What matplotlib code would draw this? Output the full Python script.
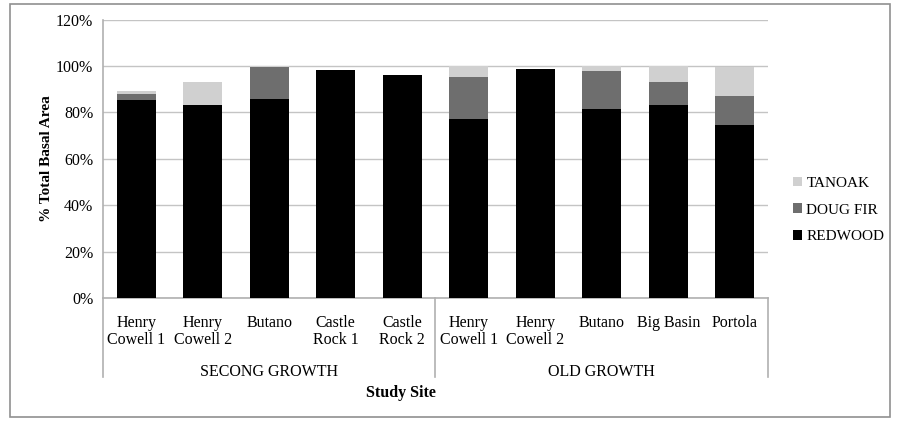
import matplotlib.pyplot as plt
import matplotlib.transforms as mtransforms
from matplotlib.patches import Rectangle

sites = ["Henry\nCowell 1", "Henry\nCowell 2", "Butano", "Castle\nRock 1", "Castle\nRock 2",
         "Henry\nCowell 1", "Henry\nCowell 2", "Butano", "Big Basin", "Portola"]
groups = ["SECONG GROWTH", "OLD GROWTH"]
group_sizes = [5, 5]

redwood = [85.3, 83.2, 85.8, 98.4, 96.1, 77.2, 98.6, 81.3, 83.2, 74.4]
doug_fir = [2.5, 0.0, 13.9, 0.0, 0.0, 17.9, 0.0, 16.5, 10.0, 12.7]
tanoak = [1.6, 10.0, 0.3, 0.0, 0.0, 4.9, 0.0, 2.2, 6.8, 12.4]

yticks = [0, 20, 40, 60, 80, 100, 120]

plt.rcParams["font.family"] = ["Liberation Serif", "DejaVu Serif"]

fig = plt.figure(figsize=(9.02, 4.21), dpi=100)
ax = fig.add_axes([0.1142, 0.2922, 0.7372, 0.6612])

x = list(range(len(sites)))
w = 0.59
ax.bar(x, redwood, w, color="#000000", label="REDWOOD", zorder=3)
ax.bar(x, doug_fir, w, bottom=redwood, color="#6e6e6e", label="DOUG FIR", zorder=3)
bottom2 = [r + d for r, d in zip(redwood, doug_fir)]
ax.bar(x, tanoak, w, bottom=bottom2, color="#d0d0d0", label="TANOAK", zorder=3)

ax.set_xlim(-0.5, len(sites) - 0.5)
ax.set_ylim(0, 120)
ax.set_yticks(yticks)
ax.set_yticklabels([f"{v}%" for v in yticks], fontsize=11.5)
ax.yaxis.grid(True, color="#c4c4c4", linewidth=1.0, zorder=0)
ax.tick_params(length=0, pad=7)
ax.set_xticks(x)
ax.set_xticklabels(sites, fontsize=11.5, linespacing=1.1)
ax.tick_params(axis="x", pad=12)
for s in ["top", "right"]:
    ax.spines[s].set_visible(False)
for s in ["left", "bottom"]:
    ax.spines[s].set_color("#b0b0b0")
    ax.spines[s].set_linewidth(1.2)

ax.set_ylabel("% Total Basal Area", fontsize=11, fontweight="bold", labelpad=2)

# group separators and labels
trans = mtransforms.blended_transform_factory(ax.transData, ax.transAxes)
start = 0
edges = [-0.5]
for g, n in zip(groups, group_sizes):
    ax.text(start + (n - 1) / 2, -0.265, g, transform=trans, ha="center", va="center",
            fontsize=11.5)
    start += n
    edges.append(start - 0.5)
for e in edges:
    ax.plot([e, e], [0, -0.285], transform=trans, color="#b0b0b0", lw=1.2, clip_on=False)

fig.text(0.4446, 1 - 393 / 421, "Study Site", ha="center", va="center",
         fontsize=11.5, fontweight="bold")

handles, labels = ax.get_legend_handles_labels()
leg = ax.legend(handles[::-1], labels[::-1], loc="center left", bbox_to_anchor=(1.028, 0.316),
                borderaxespad=0, frameon=False, fontsize=11, handlelength=0.6,
                handleheight=0.6, handletextpad=0.3, labelspacing=0.88)

fig.patches.append(Rectangle((10 / 902, 4 / 421), 880 / 902, 413 / 421, transform=fig.transFigure,
                             fill=False, edgecolor="#909090", lw=1.2))

fig.savefig("out.png", dpi=100)
